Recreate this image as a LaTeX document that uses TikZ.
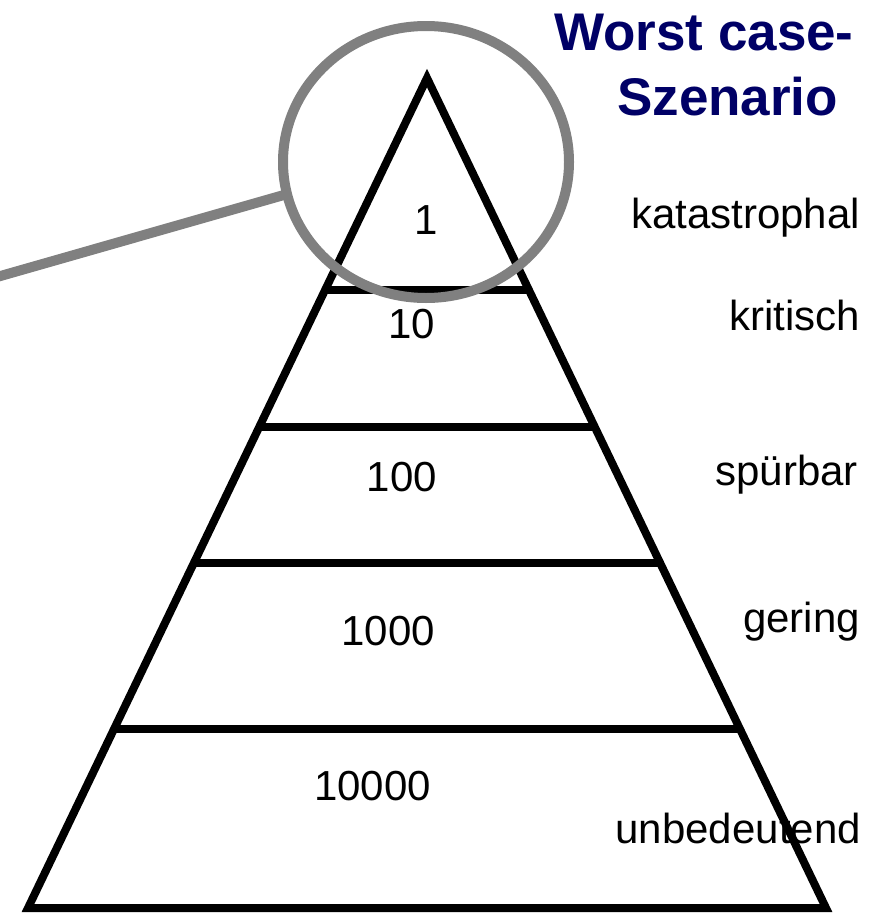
\documentclass[tikz,border=0pt]{standalone}
\usepackage{fontspec}
\setmainfont{Liberation Sans}
\usetikzlibrary{shapes.geometric}
\definecolor{titlenavy}{RGB}{0,0,102}
\definecolor{ringgray}{RGB}{128,128,128}
\tikzset{
  pyr/.style={line width=8pt, black, line join=miter, miter limit=20},
  sep/.style={line width=8pt, black},
  num/.style={anchor=base east, inner sep=0pt, font=\fontsize{42}{50}\selectfont},
  lvl/.style={anchor=base east, inner sep=0pt, font=\fontsize{42}{50}\selectfont},
  ttl/.style={anchor=base west, inner sep=0pt, text=titlenavy, font=\fontsize{53}{60}\selectfont\bfseries},
  ring/.style={draw=ringgray, line width=10pt, ellipse, inner sep=0pt, outer sep=0pt},
  pointer/.style={draw=ringgray, line width=10pt}
}
\begin{document}
\begin{tikzpicture}[x=1pt, y=-1pt]
\useasboundingbox (0,0) rectangle (881,913);
% pyramid
\coordinate (apex) at (427,78);
\coordinate (bl) at (28,908);
\coordinate (br) at (826,908);
\draw[pyr] (apex) -- (bl) -- (br) -- cycle;
% separators
\coordinate (l1) at (325,290); \coordinate (r1) at (529,290);
\coordinate (l2) at (259,427); \coordinate (r2) at (595,427);
\coordinate (l3) at (194,563); \coordinate (r3) at (660,563);
\coordinate (l4) at (114,729); \coordinate (r4) at (740,729);
\draw[sep] (l1) -- (r1);
\draw[sep] (l2) -- (r2);
\draw[sep] (l3) -- (r3);
\draw[sep] (l4) -- (r4);
% numbers
\node[num] (n1) at (438,234) {1};
\node[num] (n10) at (435,338) {10};
\node[num] (n100) at (437,491) {100};
\node[num] (n1000) at (435,645) {1000};
\node[num] (n10000) at (431,800) {10000};
% levels
\node[lvl] (kat) at (860,228) {katastrophal};
\node[lvl] (krit) at (860,330) {kritisch};
\node[lvl] (spuer) at (858,485) {spürbar};
\node[lvl] (ger) at (860,632) {gering};
\node[lvl] (unb) at (861,843) {unbedeutend};
% title
\node[ttl] (t1) at (554,50) {Worst case-};
\node[ttl] (t2) at (617,115) {Szenario};
% highlight ring and pointer
\node[ring, minimum width=286pt, minimum height=272pt] (circ) at (426,162) {};
\coordinate (pend) at (-10,279);
\draw[pointer] (pend) -- (circ.193);
\end{tikzpicture}
\end{document}
